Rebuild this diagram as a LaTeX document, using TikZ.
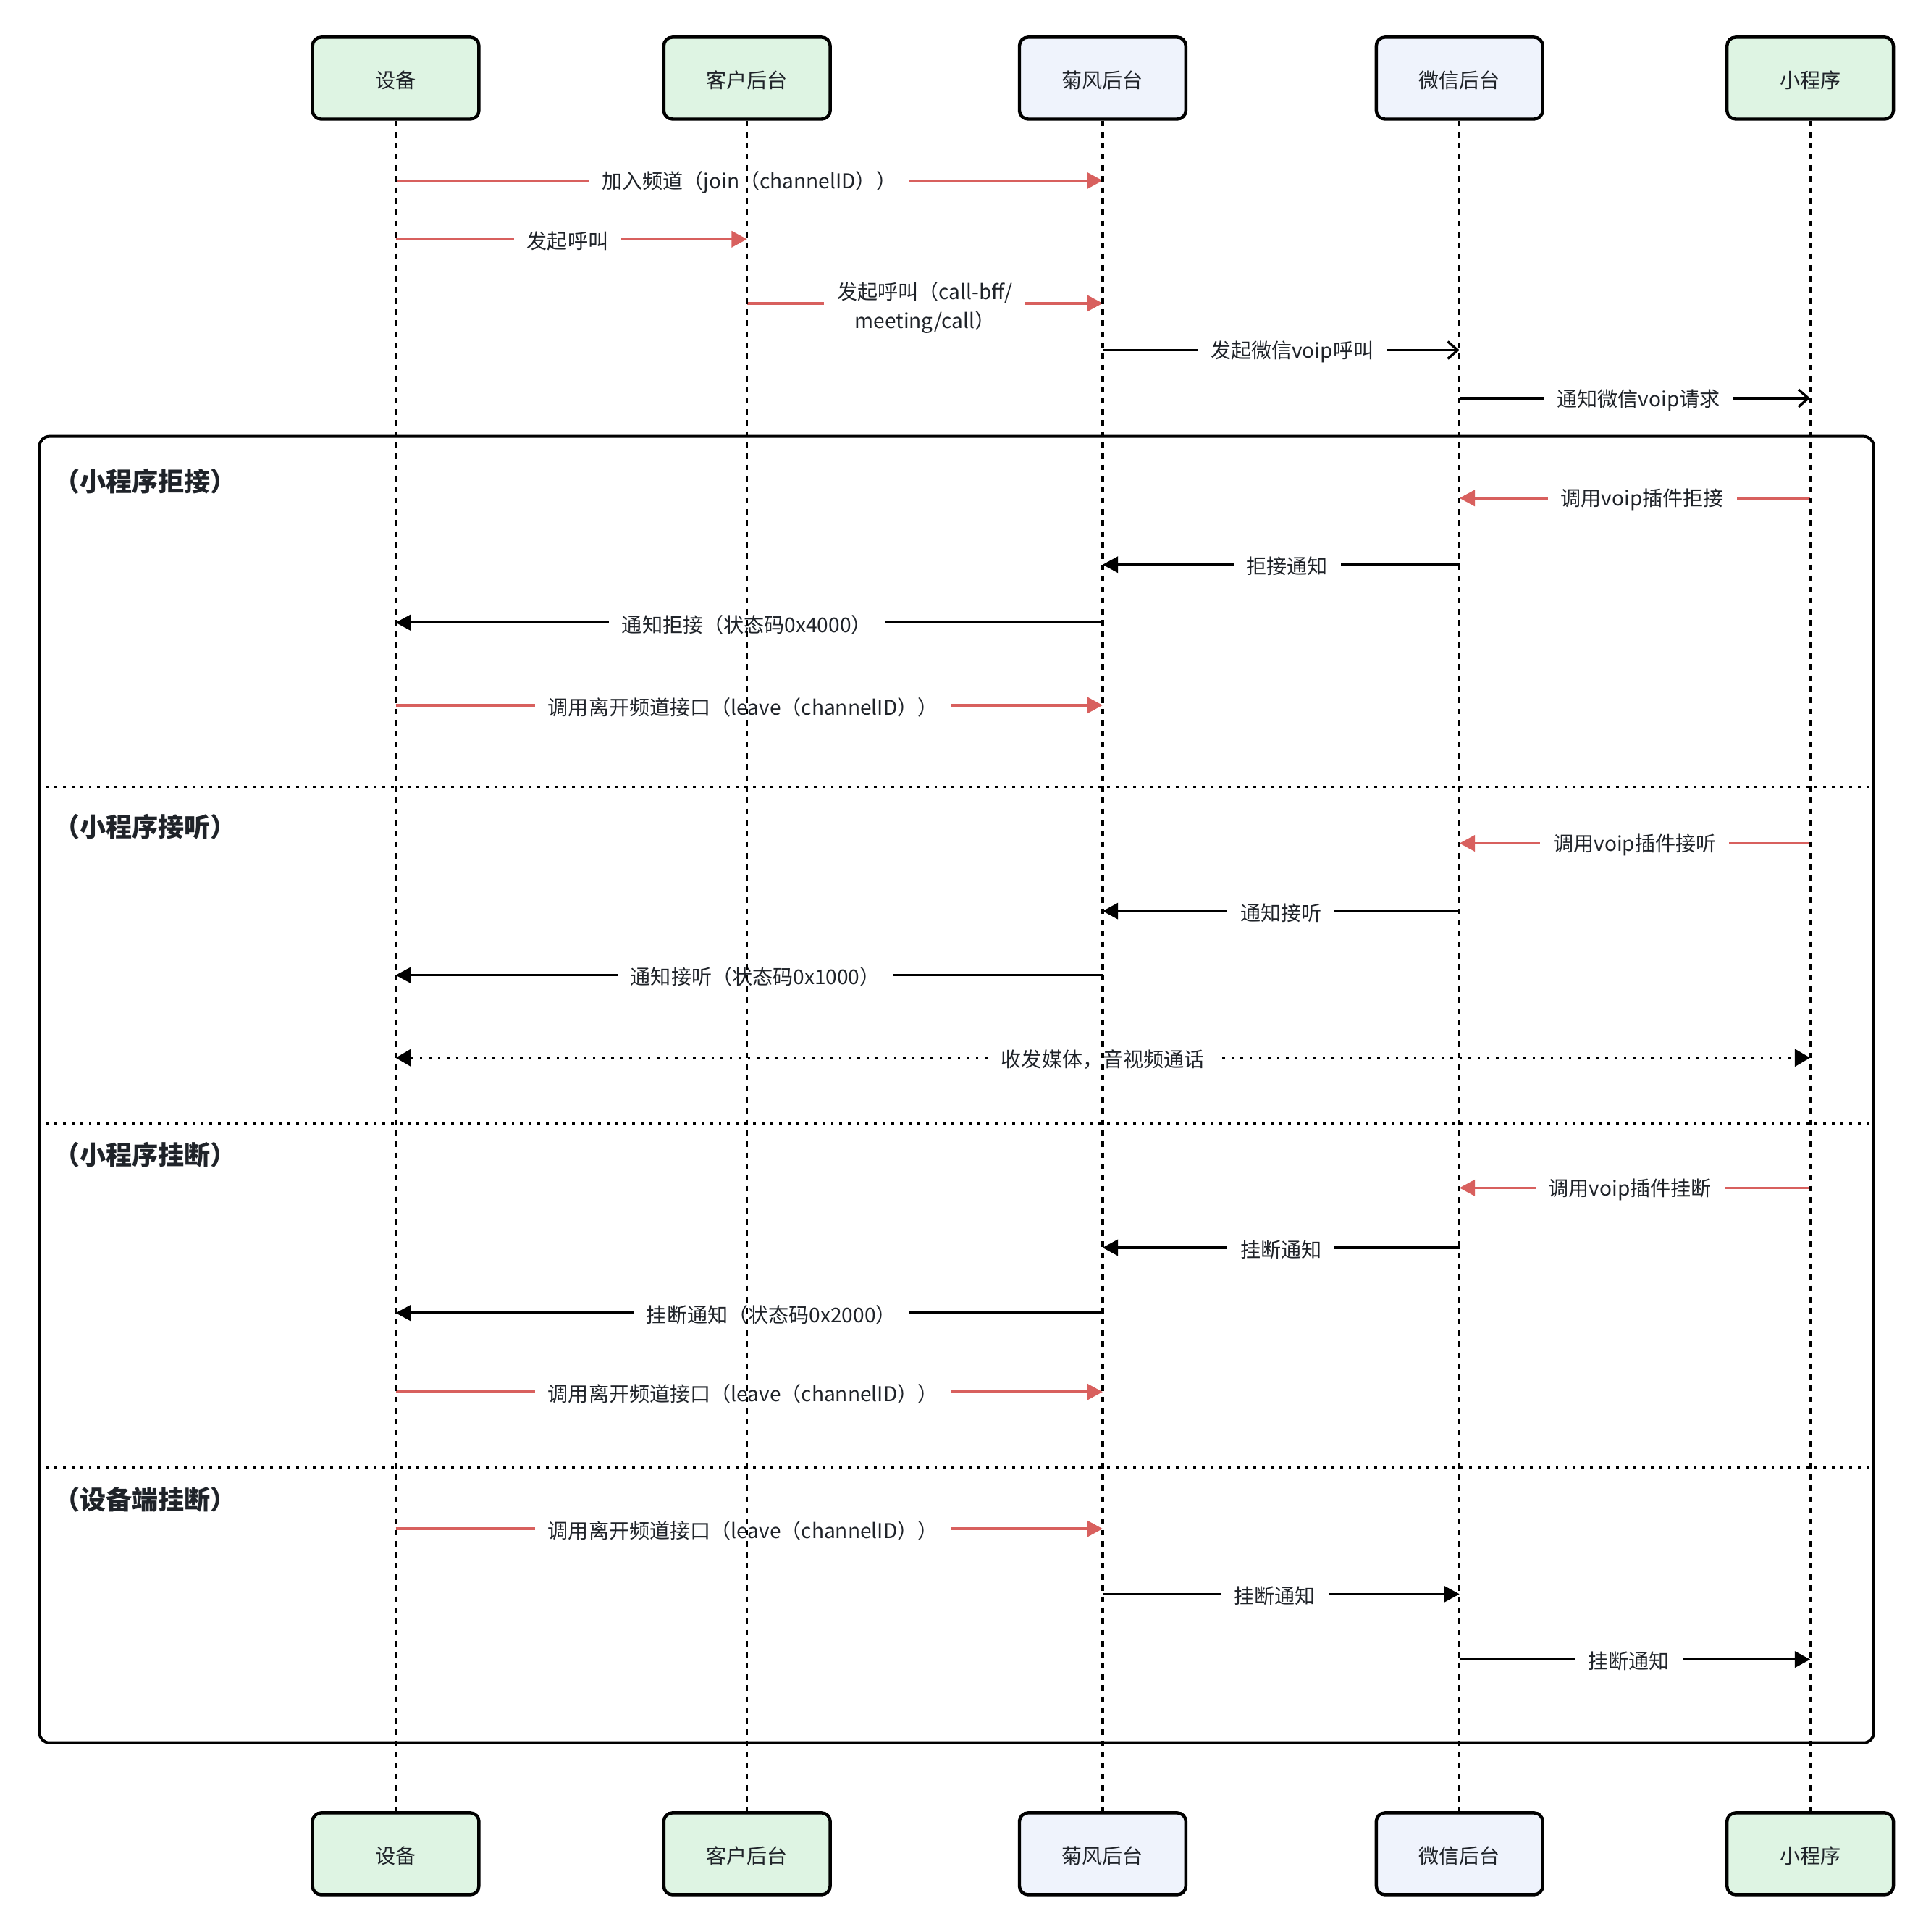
\documentclass[tikz,border=0pt]{standalone}
\usepackage{fontspec}
\setmainfont{Noto Sans CJK SC}
\usetikzlibrary{arrows.meta}
\definecolor{txt}{HTML}{1F2329}
\definecolor{redl}{RGB}{216,96,94}
\definecolor{gfill}{HTML}{DEF4E3}
\definecolor{bfill}{HTML}{EFF3FC}
\newcommand\labfont{\fontsize{16.5}{23.5}\selectfont}
\newcommand\ttlfont{\fontsize{21.2}{25}\selectfont\bfseries}
\newcommand\msg[6]{%
  \draw[#1] (#2 |- 0,#4) -- (#3 |- 0,#4) node[lbl, pos=0.5, xshift=#5pt]{#6};}
\begin{document}
\begin{tikzpicture}[x=1pt,y=-1pt,
  actor/.style={draw=black, line width=2.6pt, rounded corners=7pt,
    minimum width=135pt, minimum height=66.4pt, text=txt, font=\labfont, inner sep=0pt,
    text height=17.5pt, text depth=2pt},
  gact/.style={actor, fill=gfill},
  bact/.style={actor, fill=bfill},
  life/.style={draw=black, line width=2pt, dash pattern=on 4.5pt off 4.5pt},
  lbl/.style={fill=white, text=txt, font=\labfont, inner xsep=10.5pt, inner ysep=1pt, align=center, yshift=-1.5pt},
  redm/.style={draw=redl, line width=2pt, -{Triangle[length=12.5pt,width=13pt]}},
  blkm/.style={draw=black, line width=2pt, -{Triangle[length=12.5pt,width=13pt]}},
  opnm/.style={draw=black, line width=2pt, -{Straight Barb[length=8pt,width=14pt]}},
  dotm/.style={draw=black, line width=2pt, dash pattern=on 2pt off 5.4pt,
    {Triangle[length=12.5pt,width=14pt]}-{Triangle[length=12.5pt,width=14pt]}},
  divl/.style={draw=black, line width=2pt, dash pattern=on 2.3pt off 4.7pt},
  ttl/.style={anchor=west, text=txt, font=\ttlfont, inner sep=0pt}
]
\useasboundingbox (0,0) rectangle (1566.5,1567.1);

% actors
\node[gact] (devT) at (321,63.4) {设备};
\node[gact] (cliT) at (606,63.4) {客户后台};
\node[bact] (jfT)  at (894.5,63.4) {菊风后台};
\node[bact] (wxT)  at (1184,63.4) {微信后台};
\node[gact] (mpT)  at (1468.5,63.4) {小程序};
\node[gact] (devB) at (321,1503.6) {设备};
\node[gact] (cliB) at (606,1503.6) {客户后台};
\node[bact] (jfB)  at (894.5,1503.6) {菊风后台};
\node[bact] (wxB)  at (1184,1503.6) {微信后台};
\node[gact] (mpB)  at (1468.5,1503.6) {小程序};

% frame, dividers, titles
\draw[line width=2.3pt, rounded corners=8pt] (32,354) rectangle (1520,1413.6);
\draw[divl] (37,638) -- (1516,638);
\draw[divl] (37,911) -- (1516,911);
\draw[divl] (37,1190) -- (1516,1190);
\node[ttl] (t1) at (43.5,390.5) {（小程序拒接）};
\node[ttl] (t2) at (43.5,670.5) {（小程序接听）};
\node[ttl] (t3) at (43.5,936.5) {（小程序挂断）};
\node[ttl] (t4) at (43.5,1216.5) {（设备端挂断）};

% messages
\msg{redm}{devT}{jfT}{146.5}{0}{加入频道（join（channelID））}
\msg{redm}{devT}{cliT}{194}{-3}{发起呼叫}
\draw[redm] (cliT |- 0,246) -- (jfT |- 0,246) node[lbl, pos=0.5, yshift=-2pt]{发起呼叫（call-bff/\\meeting/call）};
\msg{opnm}{jfT}{wxT}{284}{9}{发起微信voip呼叫}
\msg{opnm}{wxT}{mpT}{323}{3}{通知微信voip请求}

\msg{redm}{mpT}{wxT}{404}{6}{调用voip插件拒接}
\msg{blkm}{wxT}{jfT}{458}{5}{拒接通知}
\msg{blkm}{jfT}{devT}{505}{-2}{通知拒接（状态码0x4000）}
\msg{redm}{devT}{jfT}{572}{-5}{调用离开频道接口（leave（channelID））}

\msg{redm}{mpT}{wxT}{684}{0}{调用voip插件接听}
\msg{blkm}{wxT}{jfT}{739}{0}{通知接听}
\msg{blkm}{jfT}{devT}{791}{5}{通知接听（状态码0x1000）}
\msg{dotm}{devT}{mpT}{858}{0}{收发媒体，音视频通话}

\msg{redm}{mpT}{wxT}{963.5}{-4}{调用voip插件挂断}
\msg{blkm}{wxT}{jfT}{1012}{0}{挂断通知}
\msg{blkm}{jfT}{devT}{1065}{18}{挂断通知（状态码0x2000）}
\msg{redm}{devT}{jfT}{1129}{-5}{调用离开频道接口（leave（channelID））}

\msg{redm}{devT}{jfT}{1240}{-5}{调用离开频道接口（leave（channelID））}
\msg{blkm}{jfT}{wxT}{1293}{-5}{挂断通知}
\msg{blkm}{wxT}{mpT}{1346}{-5}{挂断通知}

% lifelines
\foreach \a in {dev,cli,jf,wx,mp}{
  \draw[life] (\a T.south) -- (\a B.north);
}
\end{tikzpicture}
\end{document}
